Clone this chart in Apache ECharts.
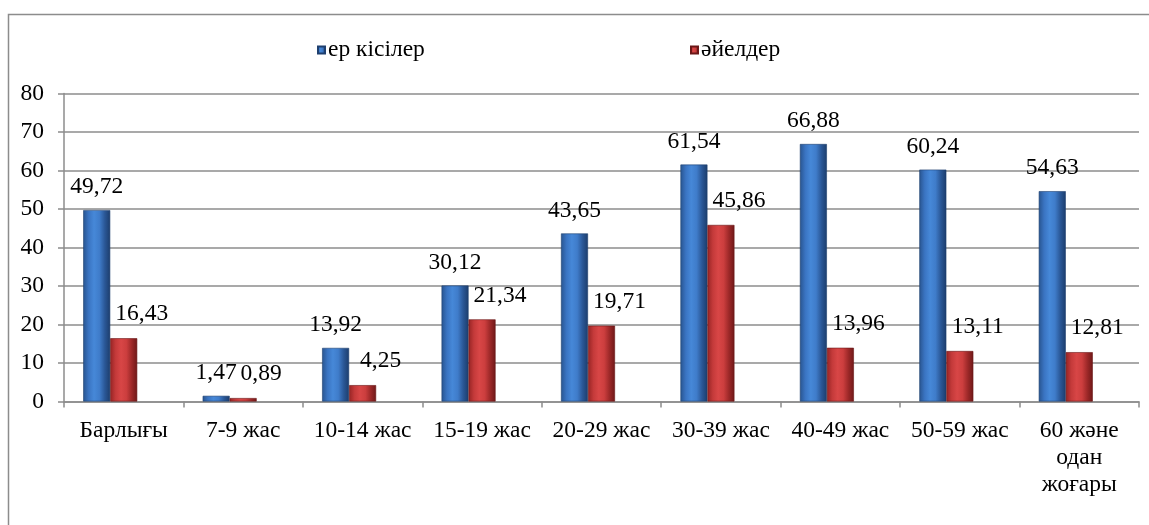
<!DOCTYPE html>
<html>
<head>
<meta charset="utf-8">
<title>ер кісілер / әйелдер</title>
<script src="https://cdn.jsdelivr.net/npm/echarts@6/dist/echarts.min.js"></script>
<style>
  html, body { margin: 0; padding: 0; background: #ffffff; }
  #chart { width: 1149px; height: 525px; }
</style>
</head>
<body>
<div id="chart"></div>
<script>
// Age groups along the x axis
const categories = ['Барлығы', '7-9 жас', '10-14 жас', '15-19 жас', '20-29 жас', '30-39 жас', '40-49 жас', '50-59 жас', '60 және\nодан\nжоғары'];
// Series values, per cent
const menValues = [49.72, 1.47, 13.92, 30.12, 43.65, 61.54, 66.88, 60.24, 54.63];
const womenValues = [16.43, 0.89, 4.25, 21.34, 19.71, 45.86, 13.96, 13.11, 12.81];
const seriesNames = ['ер кісілер', 'әйелдер'];
// Value axis ticks
const yTicks = [0, 10, 20, 30, 40, 50, 60, 70, 80];

const FONT = '"Liberation Serif", "Times New Roman", serif';
const FS = 23.5;

function shade(stops) {
  return {
    type: 'linear', x: 0, y: 0, x2: 1, y2: 0,
    colorStops: stops.map((c, i) => ({ offset: i / (stops.length - 1), color: c }))
  };
}
const blueFill = shade(['#28548f', '#3a74c2', '#4688d8', '#3f7cca', '#2a5796', '#1c3d6c']);
const redFill = shade(['#962424', '#c43a3a', '#d84646', '#cc3e3e', '#9c2828', '#6e1818']);

const fmt = p => p.value.toFixed(2).replace('.', ',');

const chart = echarts.init(document.getElementById('chart'), null, { renderer: 'canvas' });
chart.setOption({
  backgroundColor: '#ffffff',
  animation: false,
  textStyle: { fontFamily: FONT, color: '#000' },
  graphic: [{
    type: 'rect',
    shape: { x: 8.5, y: 14.5, width: 1300, height: 700 },
    style: { fill: 'none', stroke: '#8c8c8c', lineWidth: 1.5 },
    silent: true
  }],
  legend: [
    {
      data: [seriesNames[0]], left: 312, top: 33, icon: 'rect',
      itemWidth: 7, itemHeight: 7, itemGap: 4,
      textStyle: { fontFamily: FONT, fontSize: FS, color: '#000', padding: [0, 0, 0, -2] }
    },
    {
      data: [seriesNames[1]], left: 685, top: 33, icon: 'rect',
      itemWidth: 7, itemHeight: 7, itemGap: 4,
      textStyle: { fontFamily: FONT, fontSize: FS, color: '#000', padding: [0, 0, 0, -2] }
    }
  ],
  grid: { left: 64, right: 10, top: 93.5, bottom: 123.5, containLabel: false },
  xAxis: {
    type: 'category',
    data: categories,
    axisLine: { show: true, lineStyle: { color: '#8c8c8c', width: 1.5 } },
    axisTick: { show: true, length: 6, alignWithLabel: false, lineStyle: { color: '#8c8c8c', width: 1.5 } },
    axisLabel: {
      interval: 0, margin: 16, fontFamily: FONT, fontSize: FS, color: '#000', lineHeight: 27
    }
  },
  yAxis: {
    type: 'value',
    min: yTicks[0], max: yTicks[yTicks.length - 1], interval: yTicks[1] - yTicks[0],
    axisLine: { show: true, lineStyle: { color: '#8c8c8c', width: 1.5 } },
    axisTick: { show: true, length: 6, lineStyle: { color: '#8c8c8c', width: 1.5 } },
    splitLine: { show: true, lineStyle: { color: '#8c8c8c', width: 1.5 } },
    axisLabel: { margin: 20, fontFamily: FONT, fontSize: FS, color: '#000' }
  },
  series: [
    {
      name: seriesNames[0], type: 'bar', data: menValues,
      barWidth: 27, barGap: '0%',
      itemStyle: { color: blueFill, borderColor: '#1e3f6e', borderWidth: 0.6 },
      label: { show: true, position: 'top', distance: 11, formatter: fmt,
               fontFamily: FONT, fontSize: FS, color: '#000' }
    },
    {
      name: seriesNames[1], type: 'bar', data: womenValues,
      barWidth: 27, barGap: '0%',
      itemStyle: { color: redFill, borderColor: '#6a1616', borderWidth: 0.6 },
      label: { show: true, position: 'top', distance: 12, offset: [18, 0], formatter: fmt,
               fontFamily: FONT, fontSize: FS, color: '#000' }
    },
    {
      // empty slot for the 3D depth, keeps each pair left of the category centre
      name: 'depth', type: 'bar', data: categories.map(() => null),
      barWidth: 27, barGap: '0%', silent: true
    }
  ]
});
</script>
</body>
</html>
